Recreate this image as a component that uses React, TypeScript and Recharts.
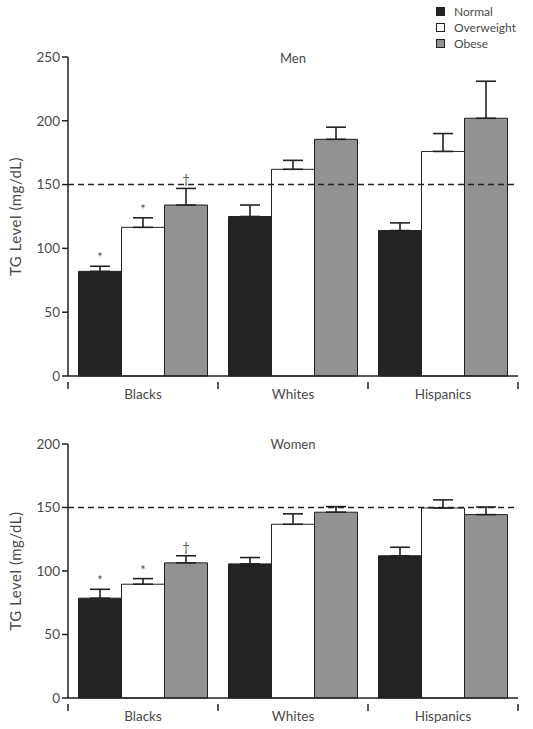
import React from 'react';
import { BarChart, Bar, XAxis, YAxis, ErrorBar, ReferenceLine, LabelList } from 'recharts';

const categories = ['Blacks', 'Whites', 'Hispanics'];
const seriesNames = ['Normal', 'Overweight', 'Obese'];
const seriesColors = ['#232323', '#ffffff', '#929292'];

const menNormal = [82, 125, 114];
const menNormalErr = [4, 9, 6];
const menOver = [116.5, 162, 176];
const menOverErr = [7.5, 7, 14];
const menObese = [134, 185.5, 202];
const menObeseErr = [13, 9.5, 29];

const womenNormal = [78.6, 105.6, 112];
const womenNormalErr = [7, 5, 6.7];
const womenOver = [89.6, 136.8, 149.6];
const womenOverErr = [4.4, 8.2, 6.4];
const womenObese = [106.4, 146.3, 144.4];
const womenObeseErr = [5.6, 4.4, 6];

const normalMarks = ['*', '', ''];
const overMarks = ['*', '', ''];
const obeseMarks = ['†', '', ''];

const menTicks = [0, 50, 100, 150, 200, 250];
const womenTicks = [0, 50, 100, 150, 200];
const threshold = 150;

const FONT = 'Lato, "Open Sans", sans-serif';
const TEXT = '#4a4a4a';
const INK = '#222';

function buildRows(n: number[], ne: number[], o: number[], oe: number[], b: number[], be: number[]) {
  return categories.map((c, i) => ({
    cat: c,
    normal: n[i],
    normalErr: [0, ne[i]],
    over: o[i],
    overErr: [0, oe[i]],
    obese: b[i],
    obeseErr: [0, be[i]],
  }));
}

const menRows = buildRows(menNormal, menNormalErr, menOver, menOverErr, menObese, menObeseErr);
const womenRows = buildRows(womenNormal, womenNormalErr, womenOver, womenOverErr, womenObese, womenObeseErr);

const makeMark = (marks: string[], errs: number[]) => (props: any) => {
  const { x, y, width, height, value, index } = props;
  const m = marks[index];
  if (!m) return null;
  const ppu = Number(height) / Number(value);
  const top = Number(y) - errs[index] * ppu;
  const cx = Math.round(Number(x) + Number(width) / 2);
  const cy = Math.round(top - 4);
  return (
    <text
      x={cx}
      y={cy}
      transform={`rotate(0.01 ${cx} ${cy})`}
      textAnchor="middle"
      fontSize={13}
      fill="#555555"
      stroke="none"
      fontFamily={FONT}
    >
      {m}
    </text>
  );
};

const CatTick = (props: any) => {
  const { x, y, payload, index } = props;
  const off = payload && payload.offset != null ? payload.offset : 0;
  const last = index === categories.length - 1;
  return (
    <g>
      <line x1={x - off} x2={x - off} y1={y - 2} y2={y + 5} stroke={INK} strokeWidth={1.5} />
      {last && <line x1={x + off} x2={x + off} y1={y - 2} y2={y + 5} stroke={INK} strokeWidth={1.5} />}
      <text x={x} y={y + 15} textAnchor="middle" fontSize={13.5} fill={TEXT} fontFamily={FONT}>
        {payload.value}
      </text>
    </g>
  );
};

const YLabel = (props: any) => {
  const vb = props.viewBox || {};
  const cx = 15;
  const cy = vb.y + vb.height / 2;
  return (
    <text x={cx} y={cy} transform={`rotate(-90 ${cx} ${cy})`} textAnchor="middle" dominantBaseline="central" fontSize={15} letterSpacing={0.5} fill={TEXT} fontFamily={FONT}>
      TG Level (mg/dL)
    </text>
  );
};

function Panel(props: { rows: any[]; ticks: number[]; errs: number[][]; height: number; top: number; bottom: number }) {
  const { rows, ticks, errs, height, top, bottom } = props;
  const maxV = ticks[ticks.length - 1];
  return (
    <BarChart width={533} height={height} data={rows} margin={{ top, right: 15, bottom, left: 0 }} barGap={0} barCategoryGap="7%">
      <XAxis dataKey="cat" axisLine={{ stroke: INK, strokeWidth: 1.5 }} tickLine={false} tick={<CatTick />} height={28} interval={0} />
      <YAxis
        domain={[0, maxV]}
        ticks={ticks}
        width={68}
        axisLine={{ stroke: INK, strokeWidth: 1.5 }}
        tickLine={{ stroke: INK, strokeWidth: 1.5 }}
        tickSize={6}
        tickMargin={2}
        tick={{ fontSize: 13.5, fill: TEXT, fontFamily: FONT }}
        label={<YLabel />}
      />
      <ReferenceLine y={threshold} stroke={INK} strokeDasharray="6 4" strokeWidth={1.5} />
      <Bar dataKey="normal" name={seriesNames[0]} fill={seriesColors[0]} stroke={INK} strokeWidth={1} isAnimationActive={false}>
        <ErrorBar dataKey="normalErr" width={10} stroke={INK} strokeWidth={1.6} direction="y" />
        <LabelList dataKey="normal" content={makeMark(normalMarks, errs[0])} />
      </Bar>
      <Bar dataKey="over" name={seriesNames[1]} fill={seriesColors[1]} stroke={INK} strokeWidth={1} isAnimationActive={false}>
        <ErrorBar dataKey="overErr" width={10} stroke={INK} strokeWidth={1.6} direction="y" />
        <LabelList dataKey="over" content={makeMark(overMarks, errs[1])} />
      </Bar>
      <Bar dataKey="obese" name={seriesNames[2]} fill={seriesColors[2]} stroke={INK} strokeWidth={1} isAnimationActive={false}>
        <ErrorBar dataKey="obeseErr" width={10} stroke={INK} strokeWidth={1.6} direction="y" />
        <LabelList dataKey="obese" content={makeMark(obeseMarks, errs[2])} />
      </Bar>
    </BarChart>
  );
}

export default function App() {
  return (
    <div style={{ position: 'absolute', left: 0, top: 0, width: 533, height: 729, background: '#fff', fontFamily: FONT }}>
      <div style={{ position: 'absolute', left: 436, top: 3 }}>
        {seriesNames.map((n, i) => (
          <div key={n} style={{ display: 'flex', alignItems: 'center', height: 16, fontSize: 12, color: TEXT }}>
            <span style={{ display: 'inline-block', width: 7, height: 7, background: seriesColors[i], border: `1px solid ${INK}`, marginRight: 9 }} />
            {n}
          </div>
        ))}
      </div>
      <div style={{ position: 'absolute', left: 0, top: 0 }}>
        <Panel rows={menRows} ticks={menTicks} errs={[menNormalErr, menOverErr, menObeseErr]} height={410} top={57} bottom={6} />
      </div>
      <div style={{ position: 'absolute', left: 0, top: 400 }}>
        <Panel rows={womenRows} ticks={womenTicks} errs={[womenNormalErr, womenOverErr, womenObeseErr]} height={329} top={44} bottom={3} />
      </div>
      <div style={{ position: 'absolute', left: 68, width: 450, top: 50, textAlign: 'center', fontSize: 13, color: TEXT }}>Men</div>
      <div style={{ position: 'absolute', left: 68, width: 450, top: 436, textAlign: 'center', fontSize: 13, color: TEXT }}>Women</div>
    </div>
  );
}
